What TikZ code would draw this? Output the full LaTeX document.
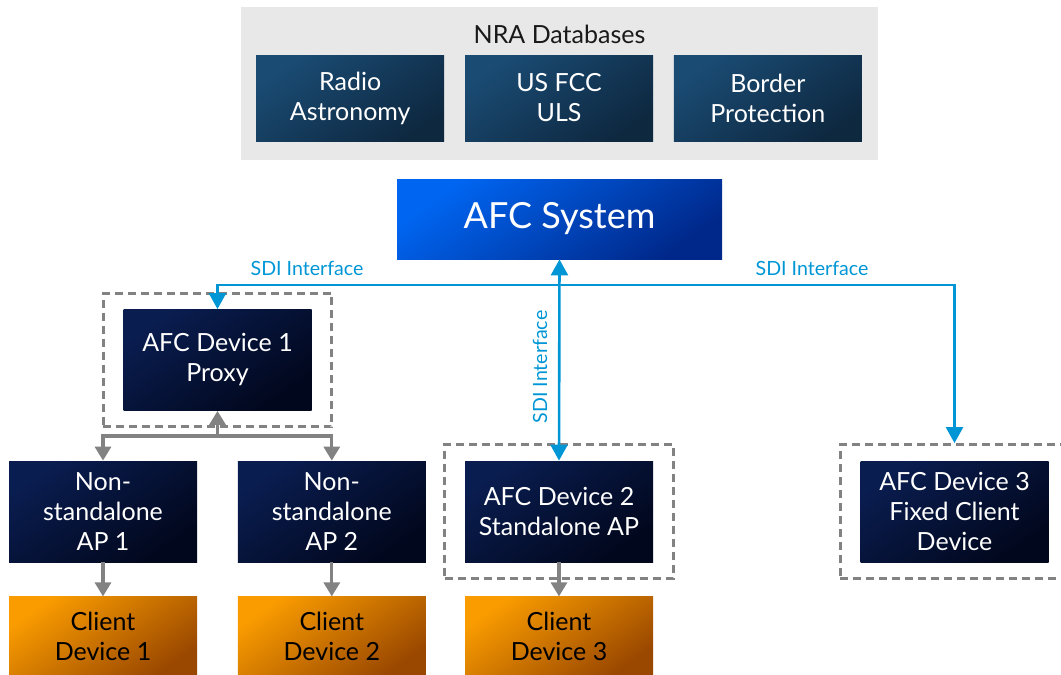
\documentclass[tikz,border=0pt]{standalone}
\usepackage{fontspec}
\setmainfont{Lato}
\usepackage{xcolor}
\usetikzlibrary{positioning,fit,arrows.meta}
\definecolor{nrabg}{HTML}{E8E8E8}
\definecolor{nratop}{HTML}{1A4B73}
\definecolor{nrabot}{HTML}{0E2840}
\definecolor{navytop}{HTML}{0A1D50}
\definecolor{navybot}{HTML}{01071C}
\definecolor{afctop}{HTML}{0066F2}
\definecolor{afcbot}{HTML}{00288A}
\definecolor{clienttop}{HTML}{FA9C00}
\definecolor{clientbot}{HTML}{9A4800}
\definecolor{sdiblue}{HTML}{0096D6}
\definecolor{feedgray}{HTML}{828282}

\begin{document}
\begin{tikzpicture}[x=0.5pt,y=-0.5pt,node distance=20pt,
		box/.style={rectangle,minimum width=94pt,minimum height=50.5pt,inner sep=0pt,align=center,
			font=\fontsize{12.5}{15}\selectfont,text=white},
		nra/.style={box,minimum height=43pt,top color=nratop,bottom color=nrabot,shading angle=35},
		navy/.style={box,top color=navytop,bottom color=navybot,shading angle=35},
		client/.style={box,minimum height=39.5pt,text=black,top color=clienttop,bottom color=clientbot,shading angle=35},
		afc/.style={box,minimum width=162.5pt,minimum height=40pt,font=\fontsize{18}{21}\selectfont,
			top color=afctop,bottom color=afcbot,shading angle=35},
		grp/.style={draw=feedgray,dash pattern=on 4pt off 2.5pt,line width=1.5pt,inner xsep=10pt,inner ysep=8pt},
		sdi/.style={draw=sdiblue,line width=1.3pt,>={Triangle[width=8.5pt,length=8pt]}},
		sdilabel/.style={text=sdiblue,inner sep=0pt,font=\fontsize{9.8}{11}\selectfont},
		feed/.style={draw=feedgray,line width=1.6pt,>={Triangle[width=8pt,length=7pt]}}]
		\useasboundingbox (0,0) rectangle (1061,675);

		% NRA databases
		\node[fill=nrabg,minimum width=318.5pt,minimum height=76.5pt,inner sep=0pt] (nra) at (559.5,83.5) {};
		\node[text=black!90,font=\fontsize{12.5}{15}\selectfont] (nratitle) at (559.5,34) {NRA Databases};
		\node[nra] (fcc) at (559,98) {US FCC\\ULS};
		\node[nra] (radio) [left=10pt of fcc] {Radio\\Astronomy};
		\node[nra] (border) [right=10pt of fcc] {Border\\Protection};

		\node[afc] (afc) at (559.5,219) {AFC System};

		% devices
		\node[navy] (proxy) at (217.5,360) {AFC Device 1\\Proxy};
		\node[navy] (ap1) at (103,511.5) {Non-\\standalone\\AP 1};
		\node[navy] (ap2) [right=of ap1] {Non-\\standalone\\AP 2};
		\node[navy] (dev2) at (559,511.5) {AFC Device 2\\Standalone AP};
		\node[navy] (dev3) at (954.5,511.5) {AFC Device 3\\Fixed Client\\Device};

		\node[client] (cl1) [below=17pt of ap1] {Client\\Device 1};
		\node[client] (cl2) [below=17pt of ap2] {Client\\Device 2};
		\node[client] (cl3) [below=17pt of dev2] {Client\\Device 3};

		\node[grp,fit=(proxy)] (grp1) {};
		\node[grp,fit=(dev2)] (grp2) {};
		\node[grp,fit=(dev3)] (grp3) {};

		% SDI interface
		\coordinate (bus) at (559.5,285);
		\draw[sdi,<->] (proxy.north) |- (bus) -| (grp3.north);
		\draw[sdi,<->] (afc.south) -- (dev2.north);
		\node[sdilabel] (sdi1) at (307,268) {SDI Interface};
		\node[sdilabel] (sdi2) at (812,268) {SDI Interface};
		\node[sdilabel,rotate=90] (sdi3) at (540,367) {SDI Interface};

		% proxy to access points
		\coordinate[below=12.5pt of proxy.south] (hub);
		\draw[feed,->] (hub) -- (proxy.south);
		\draw[feed,->] (hub) -| (ap1.north);
		\draw[feed,->] (hub) -| (ap2.north);
		\draw[feed,->] (ap1) -- (cl1);
		\draw[feed,->] (ap2) -- (cl2);
		\draw[feed,->] (dev2) -- (cl3);
	\end{tikzpicture}
\end{document}
